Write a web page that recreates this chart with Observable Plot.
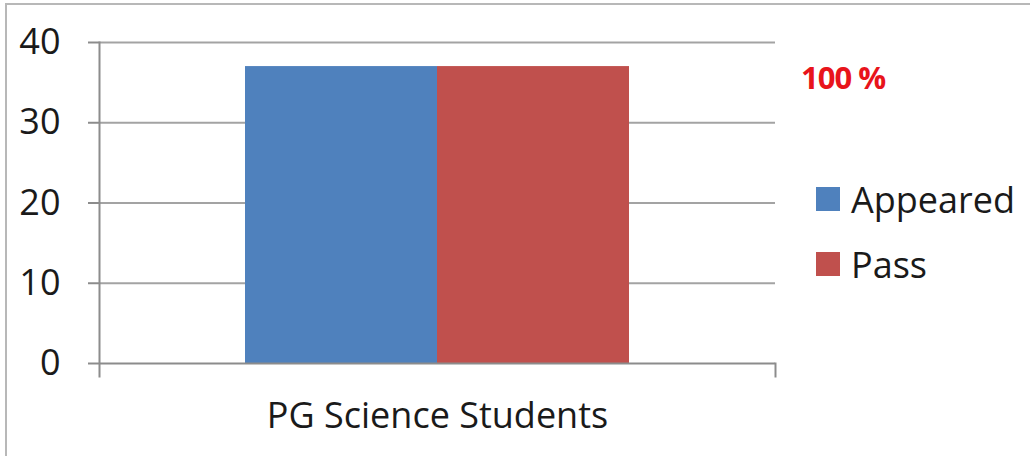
<!DOCTYPE html>
<html>
<head>
<meta charset="utf-8">
<script src="https://cdn.jsdelivr.net/npm/d3@7"></script>
<script src="https://cdn.jsdelivr.net/npm/@observablehq/plot@0.6"></script>
<style>
  html, body { margin: 0; padding: 0; background: #fff; }
  #wrap { position: relative; width: 1030px; height: 456px; overflow: hidden; font-family: "Open Sans", sans-serif; }
  #frame { position: absolute; left: 5px; top: 3px; width: 1040px; height: 470px; border-top: 2px solid #b8b8b8; border-left: 2px solid #b8b8b8; box-sizing: border-box; pointer-events: none; }
  #chart { position: absolute; left: 0; top: 0; }
  #legend { position: absolute; left: 816px; top: 181px; }
  .item { display: flex; align-items: center; height: 36px; margin-bottom: 29px; font-size: 36px; color: #1a1a1a; }
  .sw { width: 24px; height: 24px; margin-right: 11px; }
  #note { position: absolute; left: 801px; top: 56px; font-size: 31px; font-weight: bold; color: #e8141b; letter-spacing: -1px; }
</style>
</head>
<body>
<div id="wrap">
  <div id="chart"></div>
  <div id="frame"></div>
  <div id="note"></div>
  <div id="legend"></div>
</div>
<script>
const category = "PG Science Students";
const series = ["Appeared", "Pass"];
const values = [37, 37];
const colors = ["#4F81BD", "#C0504D"];
const yTicks = [0, 10, 20, 30, 40];
const noteLabel = "100 %";

const data = series.map((s, i) => ({category, series: s, value: values[i]}));

const chart = Plot.plot({
  width: 1030,
  height: 456,
  marginLeft: 99,
  marginRight: 255,
  marginTop: 42,
  marginBottom: 93,
  style: {fontFamily: "'Open Sans', sans-serif", color: "#1a1a1a", background: "transparent"},
  x: {type: "band", domain: series, paddingInner: 0, paddingOuter: 0.756, axis: null},
  y: {domain: [0, 40], axis: null},
  color: {domain: series, range: colors},
  marks: [
    Plot.gridY(yTicks.filter(d => d > 0), {stroke: "#a3a3a3", strokeOpacity: 1, strokeWidth: 2}),
    Plot.barY(data, {x: "series", y: "value", fill: "series"}),
    Plot.ruleY([0], {stroke: "#8c8c8c", strokeWidth: 2}),
    Plot.frame({anchor: "left", stroke: "#8c8c8c", strokeWidth: 2, insetBottom: -13}),
    Plot.frame({anchor: "right", stroke: "#8c8c8c", strokeWidth: 2, insetTop: 321, insetBottom: -13}),
    Plot.axisY({ticks: yTicks, tickSize: 11, tickPadding: 28, fontSize: 36, stroke: "#8c8c8c", strokeWidth: 2, label: null, tickFormat: d => String(d)}),
    Plot.text([category], {frameAnchor: "bottom", dy: 64, fontSize: 36, fill: "#1a1a1a"})
  ]
});
document.getElementById("chart").appendChild(chart);

document.getElementById("note").textContent = noteLabel;

const legend = document.getElementById("legend");
series.forEach((s, i) => {
  const item = document.createElement("div");
  item.className = "item";
  const sw = document.createElement("div");
  sw.className = "sw";
  sw.style.background = colors[i];
  const t = document.createElement("span");
  t.textContent = s;
  item.appendChild(sw);
  item.appendChild(t);
  legend.appendChild(item);
});
</script>
</body>
</html>
